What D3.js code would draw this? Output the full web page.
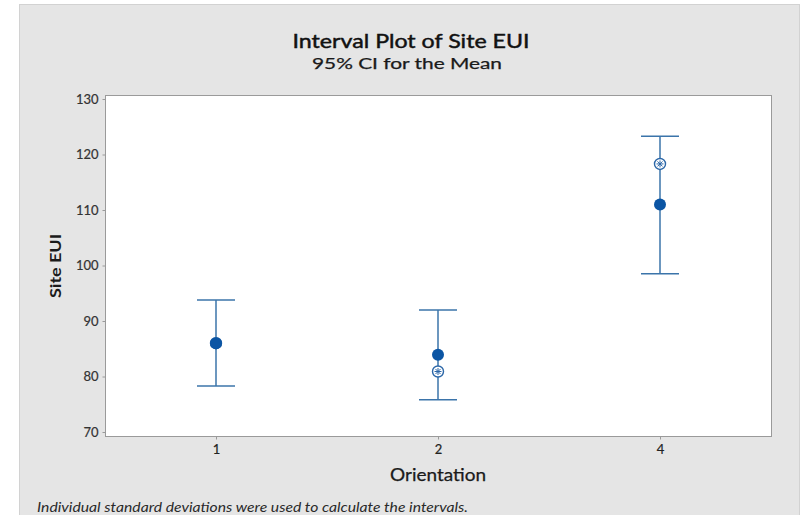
<!DOCTYPE html>
<html>
<head>
<meta charset="utf-8">
<script src="https://cdn.jsdelivr.net/npm/d3@7"></script>
<style>
  html, body { margin: 0; padding: 0; background: #ffffff; }
  svg { display: block; }
</style>
</head>
<body>
<svg id="chart" width="812" height="515"></svg>
<script>
// Orientation groups and their 95% CI summaries for Site EUI
const categories = ["1", "2", "4"];
const means = [86.0, 83.9, 111.0];
const ciLower = [78.3, 75.8, 98.5];
const ciUpper = [93.8, 92.0, 123.3];
// secondary (circled-cross) symbol; group 1 sits under its mean
const altPoints = [86.0, 80.9, 118.3];
const yTicks = [70, 80, 90, 100, 110, 120, 130];

const svg = d3.select("#chart");
const W = 812, H = 515;

// outer panel
svg.append("rect").attr("x", 0).attr("y", 0).attr("width", W).attr("height", H).attr("fill", "#ffffff");
svg.append("rect").attr("x", 19.5).attr("y", 4.5).attr("width", 780).attr("height", 520)
  .attr("fill", "#e5e5e5").attr("stroke", "#d2d2d2");

const frame = { left: 105, right: 771, top: 95, bottom: 436 };

const x = d3.scalePoint().domain(categories).range([frame.left, frame.right]).padding(0.5);
const y = d3.scaleLinear().domain([70, 130]).range([432, 99]);

// data region
svg.append("rect")
  .attr("x", frame.left + 0.5).attr("y", frame.top + 0.5)
  .attr("width", frame.right - frame.left).attr("height", frame.bottom - frame.top)
  .attr("fill", "#ffffff").attr("stroke", "#9a9a9a");

const font = "Lato, 'Open Sans', 'Noto Sans', sans-serif";

// y axis
const yAxis = d3.axisLeft(y).tickValues(yTicks).tickSize(3).tickPadding(4);
const gy = svg.append("g").attr("transform", `translate(${frame.left + 0.5},0)`).call(yAxis);
gy.select(".domain").remove();
gy.selectAll(".tick line").attr("stroke", "#9a9a9a");
gy.selectAll(".tick text").attr("fill", "#333333").style("font-family", font).style("font-size", "13px")
  .attr("stroke", "#333333").attr("stroke-width", 0.2);

// x axis
const xAxis = d3.axisBottom(x).tickSize(3).tickPadding(5);
const gx = svg.append("g").attr("transform", `translate(0,${frame.bottom + 0.5})`).call(xAxis);
gx.select(".domain").remove();
gx.selectAll(".tick line").attr("stroke", "#9a9a9a");
gx.selectAll(".tick text").attr("fill", "#222222").style("font-family", font).style("font-size", "13px")
  .attr("stroke", "#222222").attr("stroke-width", 0.2);

// intervals
const lineColor = "#3b74aa";
const capHalf = 19;
const groups = svg.append("g").selectAll("g").data(categories).join("g");

groups.append("line")
  .attr("x1", d => x(d)).attr("x2", d => x(d))
  .attr("y1", (d, i) => y(ciUpper[i])).attr("y2", (d, i) => y(ciLower[i]))
  .attr("stroke", lineColor).attr("stroke-width", 1.5);
groups.append("line")
  .attr("x1", d => x(d) - capHalf).attr("x2", d => x(d) + capHalf)
  .attr("y1", (d, i) => y(ciUpper[i])).attr("y2", (d, i) => y(ciUpper[i]))
  .attr("stroke", lineColor).attr("stroke-width", 1.5);
groups.append("line")
  .attr("x1", d => x(d) - capHalf).attr("x2", d => x(d) + capHalf)
  .attr("y1", (d, i) => y(ciLower[i])).attr("y2", (d, i) => y(ciLower[i]))
  .attr("stroke", lineColor).attr("stroke-width", 1.5);

// circled-cross symbols
const alt = groups.append("g")
  .attr("transform", (d, i) => `translate(${x(d)},${y(altPoints[i])})`);
alt.append("circle").attr("r", 5.5).attr("fill", "#ffffff").attr("stroke", "#2c67a8").attr("stroke-width", 1.4);
alt.append("path").attr("d", "M-3.5,0H3.5M0,-3.5V3.5M-2.5,-2.5L2.5,2.5M-2.5,2.5L2.5,-2.5")
  .attr("stroke", "#2c67a8").attr("stroke-width", 1);

// mean symbols
groups.append("circle")
  .attr("cx", d => x(d)).attr("cy", (d, i) => y(means[i]))
  .attr("r", 6).attr("fill", "#0b55a4");

// titles
svg.append("text").attr("x", 411).attr("y", 48).attr("text-anchor", "middle")
  .style("font-family", font).style("font-size", "19.5px").attr("fill", "#111111")
  .attr("stroke", "#111111").attr("stroke-width", 0.45)
  .attr("textLength", 237).attr("lengthAdjust", "spacingAndGlyphs")
  .text("Interval Plot of Site EUI");
svg.append("text").attr("x", 407).attr("y", 69).attr("text-anchor", "middle")
  .style("font-family", font).style("font-size", "14.5px").attr("fill", "#1a1a1a")
  .attr("stroke", "#1a1a1a").attr("stroke-width", 0.25)
  .attr("textLength", 190).attr("lengthAdjust", "spacingAndGlyphs")
  .text("95% CI for the Mean");

// axis titles
svg.append("text").attr("transform", "translate(61,266) rotate(-90)").attr("text-anchor", "middle")
  .style("font-family", font).style("font-size", "16px").style("font-weight", "bold").attr("fill", "#1a1a1a")
  .attr("textLength", 64).attr("lengthAdjust", "spacingAndGlyphs")
  .text("Site EUI");
svg.append("text").attr("x", 438).attr("y", 481).attr("text-anchor", "middle")
  .style("font-family", font).style("font-size", "17px").attr("fill", "#1a1a1a")
  .attr("stroke", "#1a1a1a").attr("stroke-width", 0.25)
  .attr("textLength", 96).attr("lengthAdjust", "spacingAndGlyphs")
  .text("Orientation");

// footnote
svg.append("text").attr("x", 37).attr("y", 512)
  .style("font-family", font).style("font-size", "13px").style("font-style", "italic").attr("fill", "#2a2a2a")
  .attr("textLength", 431).attr("lengthAdjust", "spacingAndGlyphs")
  .text("Individual standard deviations were used to calculate the intervals.");
</script>
</body>
</html>
